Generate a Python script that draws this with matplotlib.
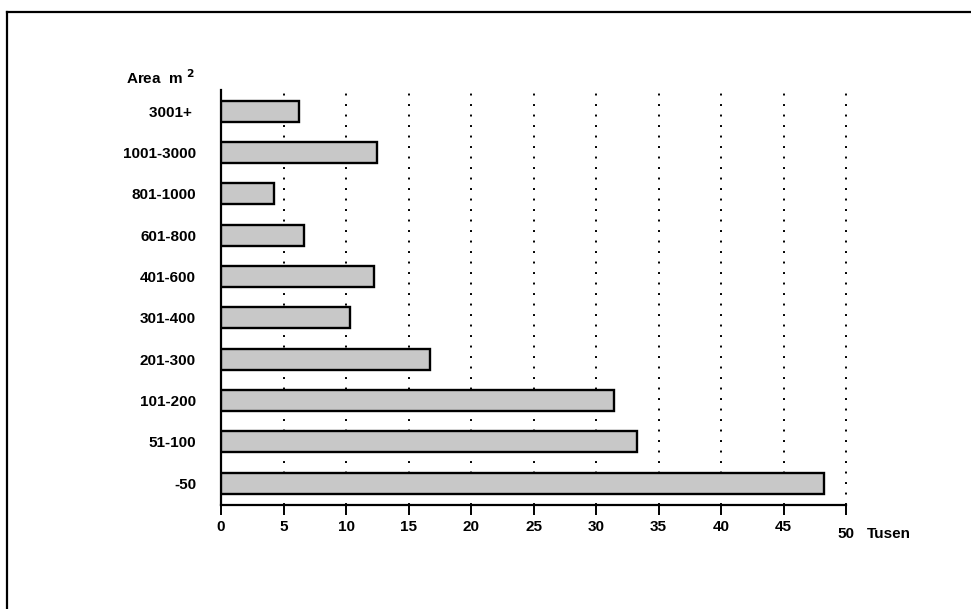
import matplotlib.pyplot as plt
import numpy as np

# area classes (bottom to top) and counts in thousands
categories = ['-50', '51-100', '101-200', '201-300', '301-400',
              '401-600', '601-800', '801-1000', '1001-3000', '3001+ ']
values = [48.2, 33.3, 31.4, 16.7, 10.3, 12.2, 6.6, 4.2, 12.5, 6.2]
xticks = [0, 5, 10, 15, 20, 25, 30, 35, 40, 45, 50]

plt.rcParams['font.family'] = ['Liberation Sans', 'DejaVu Sans']
plt.rcParams['font.weight'] = 'bold'

fig = plt.figure(figsize=(9.71, 6.09), dpi=100)
ax = fig.add_axes([221 / 971, 1 - 505 / 609, 625 / 971, 415 / 609])

y = np.arange(len(categories))
ax.barh(y, values, height=0.51, color='#c8c8c8', edgecolor='black',
        linewidth=1.7, zorder=3)

ax.set_xlim(0, 50)
ax.set_ylim(-0.53, len(categories) - 0.49)

for x in xticks[1:]:
    ax.axvline(x, color='black', linewidth=1.4,
               linestyle=(0, (1, 4.4)), zorder=1, clip_on=False)

ax.set_xticks(xticks)
ax.set_xticklabels([str(t) for t in xticks[:-1]] + [''], fontsize=11)
ax.tick_params(axis='x', direction='out', length=7, width=1.4, pad=4)
ax.set_yticks(y)
ax.set_yticklabels(categories, fontsize=11)
ax.tick_params(axis='y', length=0, pad=18)

for s in ['top', 'right']:
    ax.spines[s].set_visible(False)
for s in ['left', 'bottom']:
    ax.spines[s].set_linewidth(1.6)

ax.text(50, -1.24, '50', ha='center', va='center', fontsize=11)
ax.text(51.7, -1.24, 'Tusen', ha='left', va='center', fontsize=11)
ax.text(-2.1, 9.82, r'Area  m $^{\mathbf{2}}$', ha='right', va='center',
        fontsize=11)

# page frame
fig.add_artist(plt.Line2D([7 / 971, 1], [1 - 12 / 609] * 2,
                          color='black', linewidth=1.6))
fig.add_artist(plt.Line2D([7 / 971] * 2, [0, 1 - 12 / 609],
                          color='black', linewidth=1.6))

fig.savefig('out.png', dpi=100)
